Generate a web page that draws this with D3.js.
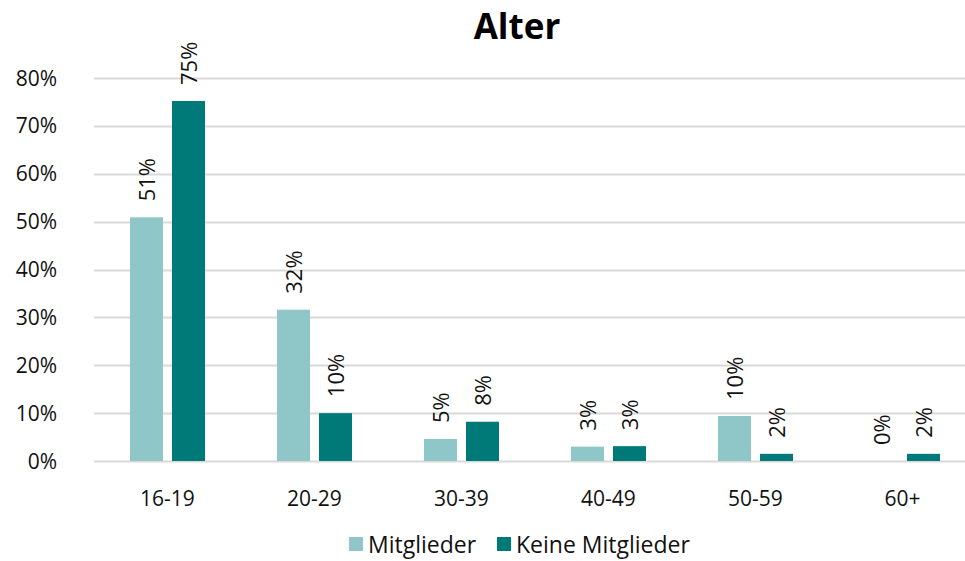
<!DOCTYPE html>
<html>
<head>
<meta charset="utf-8">
<script src="https://cdn.jsdelivr.net/npm/d3@7"></script>
<style>
  body { margin: 0; background: #fff; }
  svg { font-family: 'Open Sans', 'Noto Sans', sans-serif; }
</style>
</head>
<body>
<svg id="chart" width="965" height="561"></svg>
<script>
const categories = ['16-19', '20-29', '30-39', '40-49', '50-59', '60+']
const seriesNames = ['Mitglieder', 'Keine Mitglieder']
const mitglieder = [50.9, 31.6, 4.6, 3.0, 9.4, 0]
const keineMitglieder = [75.2, 10.0, 8.2, 3.1, 1.5, 1.5]
const mitgliederLabels = ['51%', '32%', '5%', '3%', '10%', '0%']
const keineLabels = ['75%', '10%', '8%', '3%', '2%', '2%']
const yTicks = [0, 10, 20, 30, 40, 50, 60, 70, 80]
const colors = ['#8fc6c7', '#007a78']

const svg = d3.select('#chart')

const x = d3.scaleBand().domain(categories).range([94, 976]).paddingInner(0).paddingOuter(0)
const y = d3.scaleLinear().domain([0, 80]).range([461, 78])
const barW = 33, gap = 9 // Balkenbreite, Abstand

// Gitterlinien
svg.append('g')
  .selectAll('line')
  .data(yTicks)
  .join('line')
  .attr('x1', 94).attr('x2', 976)
  .attr('y1', d => Math.round(y(d)) + 0.5).attr('y2', d => Math.round(y(d)) + 0.5)
  .attr('stroke', '#d9d9d9').attr('stroke-width', 2)

// y-Achse
svg.append('g')
  .selectAll('text')
  .data(yTicks)
  .join('text')
  .attr('x', 57).attr('y', d => y(d))
  .attr('dy', '0.36em')
  .attr('text-anchor', 'end')
  .attr('font-size', 21)
  .attr('fill', '#111')
  .text(d => d + '%')

// x-Achse
svg.append('g')
  .selectAll('text')
  .data(categories)
  .join('text')
  .attr('x', d => x(d) + x.bandwidth() / 2).attr('y', 506)
  .attr('text-anchor', 'middle')
  .attr('font-size', 21)
  .attr('fill', '#111')
  .text(d => d)

const series = [
  { values: mitglieder, labels: mitgliederLabels, off: -gap / 2 - barW },
  { values: keineMitglieder, labels: keineLabels, off: gap / 2 }
]

series.forEach((s, si) => {
  const g = svg.append('g')
  const rows = categories.map((c, i) => ({ c, v: s.values[i], l: s.labels[i] }))
  g.selectAll('rect')
    .data(rows)
    .join('rect')
    .attr('x', d => x(d.c) + x.bandwidth() / 2 + s.off)
    .attr('y', d => y(d.v))
    .attr('width', barW)
    .attr('height', d => y(0) - y(d.v))
    .attr('fill', colors[si])
  g.selectAll('text')
    .data(rows)
    .join('text')
    .attr('transform', d => `translate(${x(d.c) + x.bandwidth() / 2 + s.off + barW / 2 + 8},${y(d.v) - 16}) rotate(-90)`)
    .attr('font-size', 22)
    .attr('fill', '#111')
    .text(d => d.l)
})

// Titel
svg.append('text')
  .attr('x', 517).attr('y', 39)
  .attr('text-anchor', 'middle')
  .attr('font-size', 35)
  .attr('font-weight', 'bold')
  .attr('fill', '#000')
  .text('Alter')

// Legende
const legend = svg.append('g')
const legendItems = [{ name: seriesNames[0], x: 349 }, { name: seriesNames[1], x: 497 }]
legendItems.forEach((d, i) => {
  legend.append('rect').attr('x', d.x).attr('y', 537).attr('width', 14).attr('height', 14).attr('fill', colors[i])
  legend.append('text').attr('x', d.x + 19).attr('y', 553).attr('font-size', 23).attr('fill', '#111').text(d.name)
})
</script>
</body>
</html>
